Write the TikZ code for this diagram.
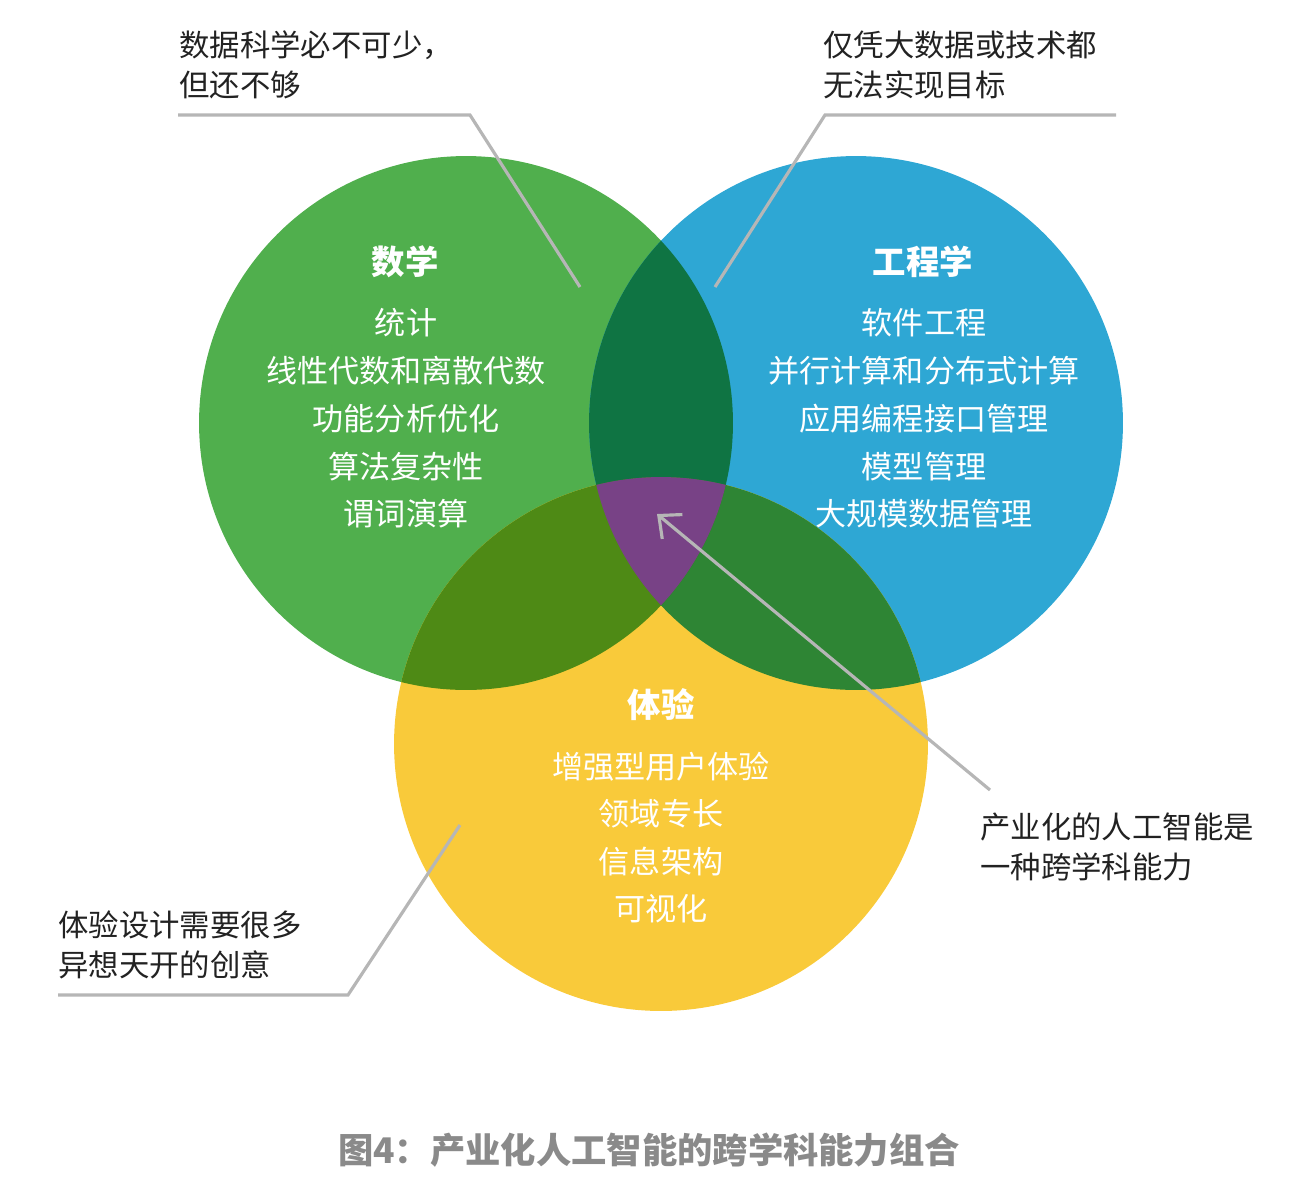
\documentclass[tikz,border=0pt]{standalone}
\usepackage{fontspec}
\setmainfont{Noto Sans CJK SC}
\usetikzlibrary{arrows.meta}

\definecolor{mathgreen}{HTML}{50AF4D}
\definecolor{engblue}{HTML}{2EA7D4}
\definecolor{expyellow}{HTML}{F9CA3A}
\definecolor{megreen}{HTML}{0F7443}
\definecolor{mxgreen}{HTML}{4E8A15}
\definecolor{exgreen}{HTML}{2E8534}
\definecolor{allpurple}{HTML}{784286}
\definecolor{linegray}{HTML}{B6B6B6}
\definecolor{notegray}{HTML}{222222}
\definecolor{capgray}{HTML}{8A8A8A}

\begin{document}
\begin{tikzpicture}[x=0.02cm, y=-0.02cm,
    title/.style={font=\fontsize{19}{22}\selectfont\bfseries, text=white},
    item/.style={font=\fontsize{17.7}{20}\selectfont, text=white},
    note/.style={font=\fontsize{17.3}{22.6}\selectfont, text=notegray,
                 align=left, anchor=west, inner sep=0pt},
    leader/.style={draw=linegray, line width=1.8pt},
    caption/.style={font=\fontsize{20.1}{22}\selectfont\bfseries, text=capgray}
]
  \useasboundingbox (0,0) rectangle (1298,1198);
  \def\rad{5.34cm}

  % circle centres
  \coordinate (M) at (466,423);
  \coordinate (E) at (856,423);
  \coordinate (X) at (661,744);

  % circles
  \fill[mathgreen] (M) circle[radius=\rad];
  \fill[engblue]   (E) circle[radius=\rad];
  \fill[expyellow] (X) circle[radius=\rad];

  % overlaps
  \begin{scope}
    \clip (E) circle[radius=\rad];
    \fill[exgreen] (X) circle[radius=\rad];
  \end{scope}
  \begin{scope}
    \clip (M) circle[radius=\rad];
    \fill[megreen] (E) circle[radius=\rad];
    \fill[mxgreen] (X) circle[radius=\rad];
    \clip (E) circle[radius=\rad];
    \fill[allpurple] (X) circle[radius=\rad];
  \end{scope}

  % Math
  \node[title] (mathT) at (405,262) {数学};
  \foreach \txt [count=\i] in {统计, 线性代数和离散代数, 功能分析优化, 算法复杂性, 谓词演算}
    \node[item] (mathI\i) at (406,{275.2+47.75*\i}) {\txt};

  % Engineering
  \node[title] (engT) at (923,262) {工程学};
  \foreach \txt [count=\i] in {软件工程, 并行计算和分布式计算, 应用编程接口管理, 模型管理, 大规模数据管理}
    \node[item] (engI\i) at (924,{275.2+47.75*\i}) {\txt};

  % Experience
  \node[title] (expT) at (661,705) {体验};
  \foreach \txt [count=\i] in {增强型用户体验, 领域专长, 信息架构, 可视化}
    \node[item] (expI\i) at (661,{719.5+47.3*\i}) {\txt};

  % callouts
  \node[note] (dsNote) at (179,65) {数据科学必不可少，\\但还不够};
  \coordinate (dsA) at (178,115);
  \coordinate (dsB) at (470,115);
  \coordinate (dsC) at (580,287);
  \draw[leader] (dsA) -- (dsB) -- (dsC);

  \node[note] (bdNote) at (823,65) {仅凭大数据或技术都\\无法实现目标};
  \coordinate (bdA) at (1116,115);
  \coordinate (bdB) at (825,115);
  \coordinate (bdC) at (715,287);
  \draw[leader] (bdA) -- (bdB) -- (bdC);

  \node[note] (uxNote) at (58,945) {体验设计需要很多\\异想天开的创意};
  \coordinate (uxA) at (58,995);
  \coordinate (uxB) at (348,995);
  \coordinate (uxC) at (460,825);
  \draw[leader] (uxA) -- (uxB) -- (uxC);

  \node[note] (aiNote) at (980,847) {产业化的人工智能是\\一种跨学科能力};
  \coordinate (aiA) at (990,790);
  \coordinate (aiC) at (657,514);
  \draw[leader, -{Straight Barb[length=10pt, width=18pt, line width=1.8pt]}] (aiA) -- (aiC);

  % caption
  \node[caption] (cap) at (649,1150) {图4：产业化人工智能的跨学科能力组合};
\end{tikzpicture}
\end{document}
